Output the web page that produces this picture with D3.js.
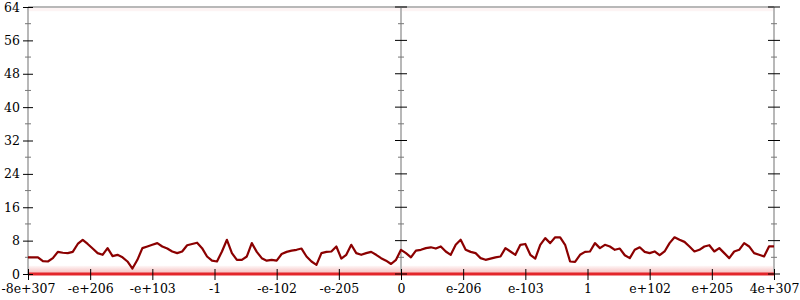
<!DOCTYPE html>
<html>
<head>
<meta charset="utf-8">
<script src="https://cdn.jsdelivr.net/npm/d3@7/dist/d3.min.js"></script>
<style type="text/css">
  body{
    margin: 0;
    background: white;
  }
  .axis text{
    font-family: 'DejaVu Serif';
    font-size: 12.5px;
    fill: #000;
  }
</style>
</head>
<body>

<svg id="chart" width="800" height="300"></svg>

<script>

// tick labels along the bottom, equally spaced
var xTickLabels = ["-8e+307", "-e+206", "-e+103", "-1", "-e-102", "-e-205", "0",
                   "e-206", "e-103", "1", "e+102", "e+205", "4e+307"];

var yMajorTicks = [0, 8, 16, 24, 32, 40, 48, 56, 64];
var yMinorTicks = [4, 12, 20, 28, 36, 44, 52, 60];

// dark line left to right at even steps
var lineValues = [
  4.0,4.0,4.0,3.1,3.0,3.8,5.3,5.1,5.0,5.3,7.2,8.2,7.2,6.1,5.0,4.6,6.2,4.3,4.6,4.0,3.0,1.3,3.4,6.2,6.6,7.0,7.4,6.6,6.1,5.4,
  5.0,5.4,6.9,7.2,7.5,6.2,4.2,3.2,3.0,5.4,8.2,5.0,3.4,3.4,4.2,7.4,5.3,3.8,3.2,3.4,3.2,4.8,5.3,5.6,5.8,6.1,4.2,3.0,2.2,5.0,
  5.3,5.4,6.6,3.7,4.6,7.0,5.0,4.6,5.0,5.3,4.6,3.8,3.2,2.4,3.4,5.8,5.0,4.0,5.6,5.8,6.2,6.4,6.1,6.6,5.4,4.6,7.0,8.2,5.8,5.3,
  5.0,3.8,3.4,3.7,4.0,4.2,6.2,5.4,4.6,7.0,7.2,4.6,3.7,7.0,8.6,7.4,8.8,8.8,7.0,3.0,2.9,4.6,5.3,5.4,7.4,6.2,7.0,6.6,5.8,6.1,
  4.5,3.8,5.8,6.4,5.3,5.0,5.4,4.5,5.4,7.4,8.8,8.2,7.7,6.6,5.4,5.8,6.6,6.9,5.4,6.2,5.0,3.8,5.4,5.8,7.4,6.6,5.0,4.6,4.2,6.6,6.6
];

// faint point clouds along the bottom and top edges (value bands)
var lowBand = [0, 2];
var topBand = [63.0, 64];

var svg = d3.select("#chart");

var x = d3.scaleLinear()
    .domain([0, xTickLabels.length - 1])
    .range([28, 774]);

var y = d3.scaleLinear()
    .domain([0, 64])
    .range([274, 7]);

var sampleX = d3.scaleLinear()
    .domain([0, lineValues.length - 1])
    .range(x.domain());

// point clouds
var grad = svg.append("defs").append("linearGradient")
    .attr("id", "lowGrad")
    .attr("x1", 0).attr("y1", 0).attr("x2", 0).attr("y2", 1);
grad.append("stop").attr("offset", "0%").attr("stop-color", "#e02020").attr("stop-opacity", 0.03);
grad.append("stop").attr("offset", "50%").attr("stop-color", "#e02020").attr("stop-opacity", 0.18);
grad.append("stop").attr("offset", "100%").attr("stop-color", "#e02020").attr("stop-opacity", 0.3);

svg.append("rect")
    .attr("x", x(0))
    .attr("width", x(12) - x(0))
    .attr("y", y(lowBand[1]))
    .attr("height", y(lowBand[0]) - y(lowBand[1]))
    .attr("fill", "url(#lowGrad)");

svg.append("rect")
    .attr("x", x(0))
    .attr("width", x(12) - x(0))
    .attr("y", y(topBand[1]))
    .attr("height", y(topBand[0]) - y(topBand[1]))
    .attr("fill", "#e02020")
    .attr("opacity", 0.05);

// frame lines
var frame = svg.append("g")
    .attr("stroke", "#b8b8b8")
    .attr("stroke-width", 2);

[0, 6, 12].forEach(function(t) {
  frame.append("line")
    .attr("x1", x(t)).attr("x2", x(t))
    .attr("y1", y(0)).attr("y2", y(64));
});

frame.append("line")
    .attr("x1", x(0)).attr("x2", x(12))
    .attr("y1", y(64)).attr("y2", y(64));

// solid row of points at zero
svg.append("line")
    .attr("x1", x(0)).attr("x2", x(12))
    .attr("y1", y(0)).attr("y2", y(0))
    .attr("stroke", "#e3262b")
    .attr("stroke-width", 3);

// minor ticks on the three vertical axes
[0, 6, 12].forEach(function(t) {
  svg.append("g")
    .selectAll("line")
    .data(yMinorTicks)
    .enter()
    .append("line")
    .attr("x1", x(t) - 3).attr("x2", x(t) + 3)
    .attr("y1", function(d) { return y(d); })
    .attr("y2", function(d) { return y(d); })
    .attr("stroke", "#777")
    .attr("stroke-width", 1);
});

// major ticks on center and right axes
[6, 12].forEach(function(t) {
  svg.append("g")
    .selectAll("line")
    .data(yMajorTicks)
    .enter()
    .append("line")
    .attr("x1", x(t) - 6).attr("x2", x(t) + 6)
    .attr("y1", function(d) { return y(d); })
    .attr("y2", function(d) { return y(d); })
    .attr("stroke", "#000")
    .attr("stroke-width", 1);
});

// left axis with labels
var yAxis = d3.axisLeft(y)
    .tickValues(yMajorTicks)
    .tickSize(5)
    .tickPadding(3);

var gy = svg.append("g")
    .attr("class", "axis")
    .attr("transform", "translate(" + x(0) + ",0)")
    .call(yAxis);
gy.select(".domain").remove();
gy.selectAll(".tick line").attr("x1", 5).attr("x2", -5).attr("stroke", "#000");

// bottom axis
var xAxis = d3.axisBottom(x)
    .tickValues(d3.range(xTickLabels.length))
    .tickFormat(function(d) { return xTickLabels[d]; })
    .tickSize(6)
    .tickPadding(4);

var gx = svg.append("g")
    .attr("class", "axis")
    .attr("transform", "translate(0," + y(0) + ")")
    .call(xAxis);
gx.select(".domain").remove();
gx.selectAll(".tick line").attr("y1", -5).attr("y2", 6).attr("stroke", "#000");

// dark line
var line = d3.line()
    .x(function(d, i) { return x(sampleX(i)); })
    .y(function(d) { return y(d); });

svg.append("path")
    .datum(lineValues)
    .attr("d", line)
    .attr("fill", "none")
    .attr("stroke", "#8b0000")
    .attr("stroke-width", 2.2)
    .attr("stroke-linejoin", "round");

</script>

</body>
</html>
